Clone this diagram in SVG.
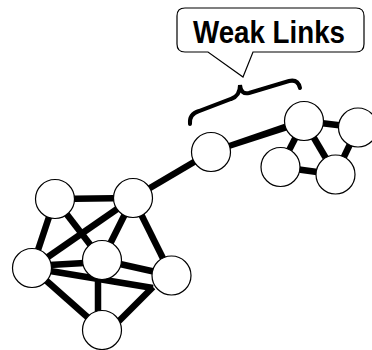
<svg xmlns="http://www.w3.org/2000/svg" width="372" height="350" viewBox="0 0 372 350">
<style>
.e{stroke:#000;stroke-width:6.5;fill:none}
.n{fill:#fff;stroke:#000;stroke-width:1.2}
.t{font-family:"Liberation Sans",Arial,sans-serif;font-weight:bold;font-size:32px;fill:#000}
</style>
<rect width="372" height="350" fill="#fff"/>
<g id="connectors">
<line class="e" x1="55" y1="199" x2="133" y2="198"/>
<line class="e" x1="55" y1="199" x2="102" y2="260"/>
<line class="e" x1="55" y1="199" x2="32" y2="268"/>
<line class="e" x1="133" y1="198" x2="32" y2="268"/>
<line class="e" x1="133" y1="198" x2="102" y2="260"/>
<line class="e" x1="133" y1="198" x2="171.5" y2="275.5"/>
<line class="e" x1="32" y1="266" x2="102" y2="262"/>
<line class="e" x1="32" y1="268" x2="153" y2="288"/>
<line class="e" x1="32" y1="268" x2="102" y2="330"/>
<line class="e" x1="102" y1="260" x2="171.5" y2="275.5"/>
<line class="e" x1="98" y1="260" x2="98" y2="330"/>
<line class="e" x1="153" y1="287" x2="100" y2="340"/>
<line class="e" x1="133" y1="198" x2="211" y2="152"/>
<polygon points="211,149 211,155 304,125 304,117" fill="#000"/>
<line class="e" x1="304" y1="121" x2="358" y2="127.5"/>
<line class="e" x1="304" y1="121" x2="280.5" y2="167"/>
<line class="e" x1="304" y1="121" x2="335.5" y2="174.5"/>
<line class="e" x1="280.5" y1="167" x2="335.5" y2="174.5"/>
<line class="e" x1="358" y1="127.5" x2="335.5" y2="174.5"/>
</g>
<g id="n1"><circle class="n" cx="55" cy="199" r="19.5"/></g>
<g id="n2"><circle class="n" cx="133" cy="198" r="19.5"/></g>
<g id="n3"><circle class="n" cx="32" cy="268" r="19.5"/></g>
<g id="n4"><circle class="n" cx="102" cy="260" r="19.5"/></g>
<g id="n5"><circle class="n" cx="171.5" cy="275.5" r="19.5"/></g>
<g id="n6"><circle class="n" cx="102" cy="330" r="19.5"/></g>
<g id="n7"><circle class="n" cx="211" cy="152" r="19.5"/></g>
<g id="n8"><circle class="n" cx="304" cy="121" r="19.5"/></g>
<g id="n9"><circle class="n" cx="358" cy="127.5" r="19.5"/></g>
<g id="n10"><circle class="n" cx="280.5" cy="167" r="19.5"/></g>
<g id="n11"><circle class="n" cx="335.5" cy="174.5" r="19.5"/></g>
<g id="brace"><path d="M190,124 Q189,114 199,111 L231,99 Q240,96 240,85 Q241,95 249,93 L289,81 Q298,79 300,88" fill="none" stroke="#000" stroke-width="4" stroke-linecap="round"/></g>
<g id="callout">
<path d="M185,8 L356,8 Q364,8 364,16 L364,44 Q364,52 356,52 L253,52 L243,77 L208,52 L185,52 Q177,52 177,44 L177,16 Q177,8 185,8 Z" fill="#fff" stroke="#000" stroke-width="1.2"/>
<text class="t" x="193" y="43" textLength="152" lengthAdjust="spacingAndGlyphs">Weak Links</text>
</g>
</svg>
